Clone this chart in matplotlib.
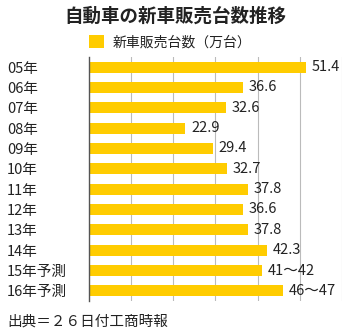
import matplotlib
matplotlib.use('Agg')
import matplotlib.pyplot as plt

plt.rcParams['font.family'] = ['Noto Sans CJK JP', 'DejaVu Sans']

# data
years = ['05年', '06年', '07年', '08年', '09年', '10年', '11年', '12年', '13年', '14年', '15年予測', '16年予測']
sales = [51.4, 36.6, 32.6, 22.9, 29.4, 32.7, 37.8, 36.6, 37.8, 42.3, 41, 46]
value_labels = ['51.4', '36.6', '32.6', '22.9', '29.4', '32.7', '37.8', '36.6', '37.8', '42.3', '41～42', '46～47']

bar_color = '#FFCC00'
text_color = '#222222'
fs = 10.5

fig = plt.figure(figsize=(3.5, 3.33), dpi=100)
ax = fig.add_axes([0.254, 0.096, 0.723, 0.733])

pos = list(range(len(years)))
bars = ax.barh(pos, sales, height=0.53, color=bar_color, label='新車販売台数（万台）', zorder=2)
ax.bar_label(bars, labels=value_labels, padding=4, fontsize=fs, color=text_color)

ax.set_ylim(len(years) - 0.5, -0.5)
ax.set_xlim(0, 60)
ax.set_xticks([10, 20, 30, 40, 50, 60])
ax.set_xticklabels([])
ax.tick_params(axis='x', length=0)
ax.grid(axis='x', color='#bbbbbb', lw=0.8, zorder=0)

ax.set_yticks(pos)
ax.set_yticklabels(years, fontsize=fs, color=text_color)
ax.tick_params(axis='y', length=0, pad=59)
for lab in ax.get_yticklabels():
    lab.set_horizontalalignment('left')

for s in ['top', 'right', 'bottom']:
    ax.spines[s].set_visible(False)
ax.spines['left'].set_color('#555555')
ax.spines['left'].set_linewidth(1.0)
ax.spines['left'].set_zorder(3)

fig.text(0.5, 1 - 16 / 333, '自動車の新車販売台数推移', ha='center', va='center',
         fontsize=13.3, fontweight='bold', color=text_color)

ax.legend(loc='center left', bbox_to_anchor=(89 / 350, 1 - 42 / 333),
          bbox_transform=fig.transFigure, frameon=False, fontsize=10,
          handlelength=1.1, handleheight=1.1, handletextpad=0.6, borderpad=0,
          borderaxespad=0, labelcolor=text_color)

fig.text(7 / 350, 1 - 322 / 333, '出典＝２６日付工商時報', ha='left', va='center',
         fontsize=fs, color=text_color)

fig.savefig('out.png', dpi=100)
